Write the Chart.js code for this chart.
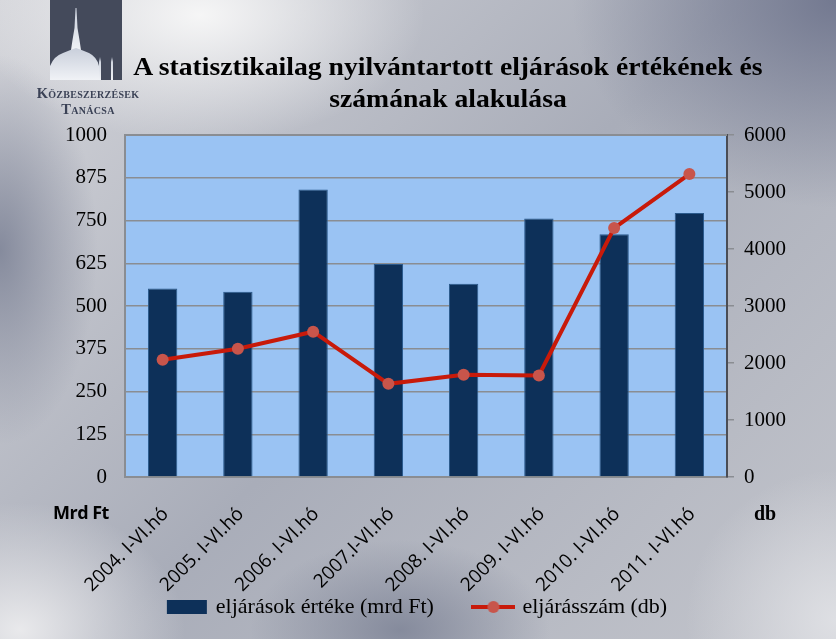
<!DOCTYPE html>
<html>
<head>
<meta charset="utf-8">
<script src="https://cdn.jsdelivr.net/npm/chart.js@4/dist/chart.umd.min.js"></script>
<style>
  html, body { margin: 0; padding: 0; }
  body {
    width: 836px; height: 639px; position: relative; overflow: hidden;
    background:
      radial-gradient(ellipse 300px 170px at 200px 15px, rgba(248,248,248,0.95), rgba(248,248,248,0) 75%),
      radial-gradient(ellipse 130px 260px at 0px 250px, rgba(122,128,148,0.85), rgba(122,128,148,0) 75%),
      radial-gradient(ellipse 330px 260px at 836px 0px, rgba(112,118,142,0.95), rgba(112,118,142,0) 80%),
      radial-gradient(ellipse 200px 120px at 400px 630px, rgba(125,131,150,0.85), rgba(125,131,150,0) 75%),
      radial-gradient(ellipse 220px 170px at 20px 630px, rgba(236,236,238,0.95), rgba(236,236,238,0) 75%),
      radial-gradient(ellipse 200px 200px at 836px 620px, rgba(225,226,230,0.9), rgba(225,226,230,0) 75%),
      linear-gradient(135deg, #d4d5da 0%, #a9adb9 50%, #c3c5cc 100%);
  }
  canvas { position: absolute; left: 0; top: 0; }
  .txt { position: absolute; z-index: 2; color: #000; }
  #title { left: 0; width: 896px; top: 51px; text-align: center; font: bold 26px "Liberation Serif", serif; line-height: 32px; transform: scaleX(1.064); transform-origin: 448px 0; }
  #logo { position: absolute; left: 50px; top: 0; z-index: 2; }
  #org { left: 16px; width: 144px; top: 85px; text-align: center; font: bold 14.5px "Liberation Serif", serif; font-variant: small-caps; color: #3b4256; line-height: 16px; letter-spacing: 0.3px; }
  #mrd { left: 53px; top: 500px; font: bold 18px "Open Sans", sans-serif; letter-spacing: -0.5px; }
  #db { left: 754px; top: 502px; font: bold 20px "Liberation Serif", serif; }
</style>
</head>
<body>
<svg id="logo" width="72" height="80" viewBox="0 0 72 80">
  <defs>
    <linearGradient id="dg" x1="0" y1="0" x2="0" y2="1">
      <stop offset="0" stop-color="#c9cfdb"/>
      <stop offset="1" stop-color="#f0f2f6"/>
    </linearGradient>
  </defs>
  <rect x="0" y="0" width="72" height="80" fill="#444a5b"/>
  <path d="M25.5 8 L26.5 8 L27.5 28 L29.5 40 L31 50 L21 50 L22.5 40 L24.5 28 Z" fill="url(#dg)"/>
  <path d="M0 80 L0 66 Q4 56 13 53 Q20 50 26 48 Q32 50 39 53 Q47 57 49 66 L49 80 Z" fill="url(#dg)"/>
  <path d="M49 80 L49 62 L50 57 L51 62 L51 80 Z" fill="url(#dg)"/>
  <path d="M61 80 L61 62 L62 57 L63 62 L63 80 Z" fill="url(#dg)"/>
</svg>
<div id="org" class="txt">Közbeszerzések<br>Tanácsa</div>
<div id="title" class="txt">A statisztikailag nyilvántartott eljárások értékének és<br>számának alakulása</div>
<div id="mrd" class="txt">Mrd Ft</div>
<div id="db" class="txt">db</div>
<canvas id="c" width="836" height="639"></canvas>
<script>
var categories = ['2004. I-VI.hó', '2005. I-VI.hó', '2006. I-VI.hó', '2007.I-VI.hó',
                  '2008. I-VI.hó', '2009. I-VI.hó', '2010. I-VI.hó', '2011. I-VI.hó'];
var valueMrdFt = [551, 542, 841, 623, 565, 756, 710, 772];
var countDb = [2057, 2250, 2549, 1635, 1793, 1781, 4368, 5314];
var leftTicks = [0, 125, 250, 375, 500, 625, 750, 875, 1000];
var rightTicks = [0, 1000, 2000, 3000, 4000, 5000, 6000];

var tickFont = { family: 'Liberation Serif', size: 21 };
var bottomPad = 11;

function legendIcon(kind) {
  var cv = document.createElement('canvas');
  cv.width = 44; cv.height = 16;
  var g = cv.getContext('2d');
  if (kind === 'bar') {
    g.fillStyle = '#0d3059';
    g.fillRect(2, 1, 40, 14);
  } else {
    g.strokeStyle = '#c81a0a';
    g.lineWidth = 4;
    g.beginPath(); g.moveTo(0, 8); g.lineTo(44, 8); g.stroke();
    g.fillStyle = '#c8554b';
    g.beginPath(); g.arc(22, 8, 6, 0, Math.PI * 2); g.fill();
  }
  return cv;
}
var legendIcons = [legendIcon('line'), legendIcon('bar')];

var plotArea = {
  id: 'plotArea',
  beforeDraw: function (chart) {
    var a = chart.chartArea, ctx = chart.ctx;
    ctx.save();
    ctx.fillStyle = '#9ac3f3';
    ctx.fillRect(a.left, a.top, a.right - a.left, a.bottom - a.top);
    ctx.restore();
  },
  afterDatasetsDraw: function (chart) {
    var a = chart.chartArea, ctx = chart.ctx;
    ctx.save();
    ctx.strokeStyle = '#8a8d92';
    ctx.lineWidth = 2;
    ctx.beginPath();
    ctx.moveTo(a.left, a.top); ctx.lineTo(a.right, a.top);
    ctx.stroke();
    ctx.restore();
  }
};

new Chart(document.getElementById('c'), {
  type: 'bar',
  data: {
    labels: categories,
    datasets: [{
      type: 'line',
      label: 'eljárásszám (db)',
      data: countDb,
      yAxisID: 'y1',
      borderColor: '#c81a0a',
      borderWidth: 4,
      pointRadius: 6,
      pointStyle: 'circle',
      pointBackgroundColor: '#c8554b',
      pointBorderWidth: 0,
      tension: 0,
      order: 0
    }, {
      label: 'eljárások értéke (mrd Ft)',
      data: valueMrdFt,
      yAxisID: 'y',
      backgroundColor: '#0d3059',
      borderColor: '#2b5a8c',
      borderWidth: 1,
      barPercentage: 0.39,
      categoryPercentage: 1,
      order: 1
    }]
  },
  options: {
    responsive: false,
    animation: false,
    layout: { padding: { top: 135, left: 0, right: 0, bottom: bottomPad } },
    plugins: {
      tooltip: { enabled: false },
      legend: {
        position: 'bottom',
        reverse: true,
        labels: {
          usePointStyle: true,
          pointStyleWidth: 36,
          boxHeight: 16,
          padding: 3,
          color: '#000',
          font: { family: 'Liberation Serif', size: 22 },
          generateLabels: function (chart) {
            var items = Chart.defaults.plugins.legend.labels.generateLabels(chart);
            items.forEach(function (it) {
              it.pointStyle = legendIcons[it.datasetIndex];
              if (it.datasetIndex === 1) it.text = it.text + '\u00a0\u00a0\u00a0\u00a0\u00a0\u00a0\u00a0';
            });
            return items;
          }
        }
      }
    },
    scales: {
      x: {
        grid: { display: false, drawTicks: false },
        border: { color: '#8a8d92', width: 2 },
        ticks: {
          autoSkip: false, minRotation: 45, maxRotation: 45,
          padding: 26, labelOffset: 3,
          color: '#000', font: { family: 'Open Sans', size: 19 }
        },
        afterFit: function (s) { s.height = 639 - 477 - bottomPad - (s.chart.legend ? s.chart.legend.height : 0); }
      },
      y: {
        position: 'left', min: 0, max: 1000,
        afterBuildTicks: function (s) { s.ticks = leftTicks.map(function (v) { return { value: v }; }); },
        ticks: { color: '#000', font: tickFont, padding: 18, callback: function (v) { return String(v); } },
        grid: { color: '#8a8d92', lineWidth: 1.5, drawTicks: false },
        border: { color: '#8a8d92', width: 2 },
        afterFit: function (s) { s.width = 125; }
      },
      y1: {
        position: 'right', min: 0, max: 6000,
        afterBuildTicks: function (s) { s.ticks = rightTicks.map(function (v) { return { value: v }; }); },
        ticks: { color: '#000', font: tickFont, padding: 10, callback: function (v) { return String(v); } },
        grid: { drawOnChartArea: false, tickLength: 7, color: '#8a8d92', lineWidth: 1.5 },
        border: { color: '#4a4d55', width: 2 },
        afterFit: function (s) { s.width = 836 - 727; }
      }
    }
  },
  plugins: [plotArea]
});
</script>
</body>
</html>
